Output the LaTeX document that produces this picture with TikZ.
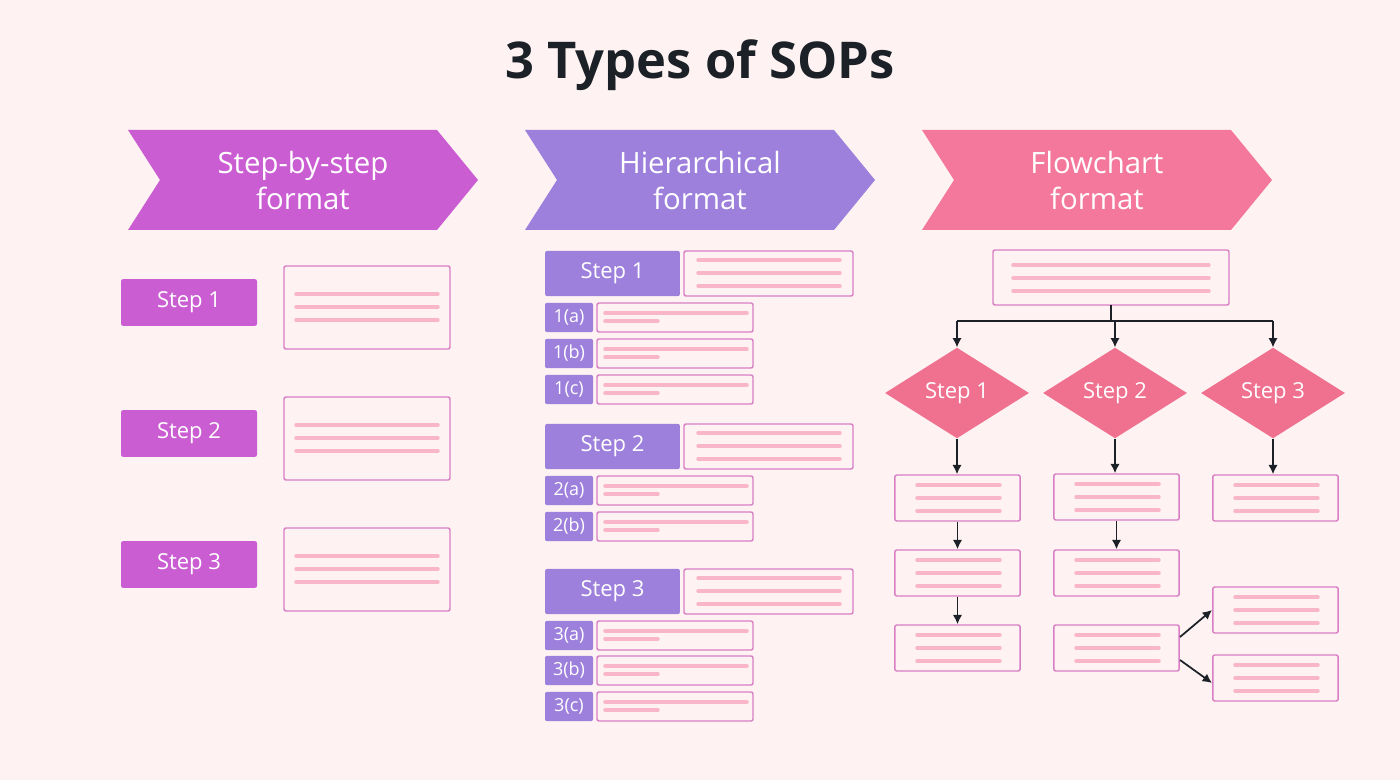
\documentclass[tikz,border=0pt]{standalone}
\usepackage{fontspec}
\setmainfont{Open Sans}
\usetikzlibrary{arrows.meta,shapes.geometric}
\definecolor{bg}{HTML}{FEF3F2}
\definecolor{cA}{HTML}{CB5DD3}
\definecolor{cB}{HTML}{9D7FDC}
\definecolor{cC}{HTML}{F3789B}
\definecolor{dia}{HTML}{F0708F}
\definecolor{ln}{HTML}{F9B5C9}
\definecolor{bd}{HTML}{D97EC4}
\definecolor{ink}{HTML}{1B2127}
\begin{document}
\begin{tikzpicture}[x=0.75pt,y=-0.75pt,
  card/.style={draw=bd,line width=1.1pt,fill=bg,rounded corners=1.5pt},
  tline/.style={ln,line width=2.6pt,line cap=round},
  lab/.style={rounded corners=1.5pt,text=white,inner sep=0pt},
  arr/.style={ink,line width=1.3pt,-{Latex[length=7pt,width=7pt]}}]
\fill[bg] (0,0) rectangle (1400,780);
\useasboundingbox (0,0) rectangle (1400,780);
\node[text=ink,font=\fontsize{38}{44}\selectfont\bfseries] (title) at (700,65) {3 Types of SOPs};
% chevrons
\foreach \x/\c/\t/\n in {128/cA/Step-by-step/chA,525/cB/Hierarchical/chB,922/cC/Flowchart/chC}{
  \fill[\c] (\x,130) -- (\x+309,130) -- (\x+350,180) -- (\x+309,230) -- (\x,230) -- (\x+32,180) -- cycle;
  \node[text=white,align=center,font=\fontsize{22}{27}\selectfont] (\n) at (\x+175,181) {\t\\format};
}
% step-by-step
\foreach \y/\dy/\i in {279/266/1,410/397/2,541/528/3}{
  \node[lab,fill=cA,minimum width=102pt,minimum height=35pt,font=\fontsize{16.5}{18}\selectfont] (sA\i) at (189,\y+23.5) {Step \i};
  \draw[card] (284,\dy) rectangle (450,\dy+83);
  \foreach \k in {28,41,54} \draw[tline] (296,\dy+\k) -- (438,\dy+\k);
}
% hierarchical
\newcommand{\bigstep}[2]{%
  \node[lab,fill=cB,minimum width=101pt,minimum height=34pt,font=\fontsize{16.5}{18}\selectfont] (hS#2) at (612.5,#1+22.5) {Step #2};
  \draw[card] (684,#1) rectangle (853,#1+45);
  \foreach \k in {9,22,35} \draw[tline] (698,#1+\k) -- (840,#1+\k);}
\newcommand{\substep}[3]{%
  \node[lab,fill=cB,minimum width=36pt,minimum height=22pt,font=\fontsize{13.5}{15}\selectfont] (hs#3) at (569,#1+14.5) {#2};
  \draw[card] (597,#1) rectangle (753,#1+29);
  \draw[tline] (605,#1+10) -- (747,#1+10);
  \draw[tline] (605,#1+18) -- (658,#1+18);}
\bigstep{251}{1}
\substep{303}{1(a)}{1a}\substep{339}{1(b)}{1b}\substep{375}{1(c)}{1c}
\bigstep{424}{2}
\substep{476}{2(a)}{2a}\substep{512}{2(b)}{2b}
\bigstep{569}{3}
\substep{621}{3(a)}{3a}\substep{656}{3(b)}{3b}\substep{692}{3(c)}{3c}
% flowchart
\draw[card] (993,250) rectangle (1229,305);
\foreach \k in {15,28,41} \draw[tline] (1013,250+\k) -- (1209,250+\k);
\coordinate (top) at (1111,305);
\coordinate (hj) at (1111,321);
\foreach \x/\i in {957/1,1115/2,1273/3}{
  \node[diamond,fill=dia,minimum width=108pt,minimum height=68pt,inner sep=0pt,text=white,font=\fontsize{16.5}{18}\selectfont] (d\i) at (\x,393) {Step \i};
}
\draw[ink,line width=1.3pt] (top) -- (hj);
\draw[ink,line width=1.3pt] (957,321) -- (1273,321);
\foreach \x/\i in {957/1,1115/2,1273/3} \draw[arr] (\x,321) -- (d\i.north);
\newcommand{\flowbox}[3]{%
  \node[card,minimum width=94pt,minimum height=34.5pt,inner sep=0pt] (#3) at (#1+62.5,#2+23) {};
  \foreach \k in {10,23,36} \draw[tline] (#1+22,#2+\k) -- (#1+105,#2+\k);}
\flowbox{895}{475}{a1}\flowbox{895}{550}{a2}\flowbox{895}{625}{a3}
\flowbox{1054}{474}{b1}\flowbox{1054}{550}{b2}\flowbox{1054}{625}{b3}
\flowbox{1213}{475}{c1}\flowbox{1213}{587}{c2}\flowbox{1213}{655}{c3}
\draw[arr] (d1.south) -- (d1.south|-a1.north);
\draw[arr] (d2.south) -- (d2.south|-b1.north);
\draw[arr] (d3.south) -- (d3.south|-c1.north);
\draw[arr] (a1.south) -- (a2.north);
\draw[arr] (a2.south) -- (a3.north);
\draw[arr] (b1.south) -- (b2.north);
\coordinate (o1) at (1180,637); \coordinate (e1) at (1212,610);
\coordinate (o2) at (1180,660); \coordinate (e2) at (1212,683);
\draw[arr] (o1) -- (e1);
\draw[arr] (o2) -- (e2);
\end{tikzpicture}
\end{document}
